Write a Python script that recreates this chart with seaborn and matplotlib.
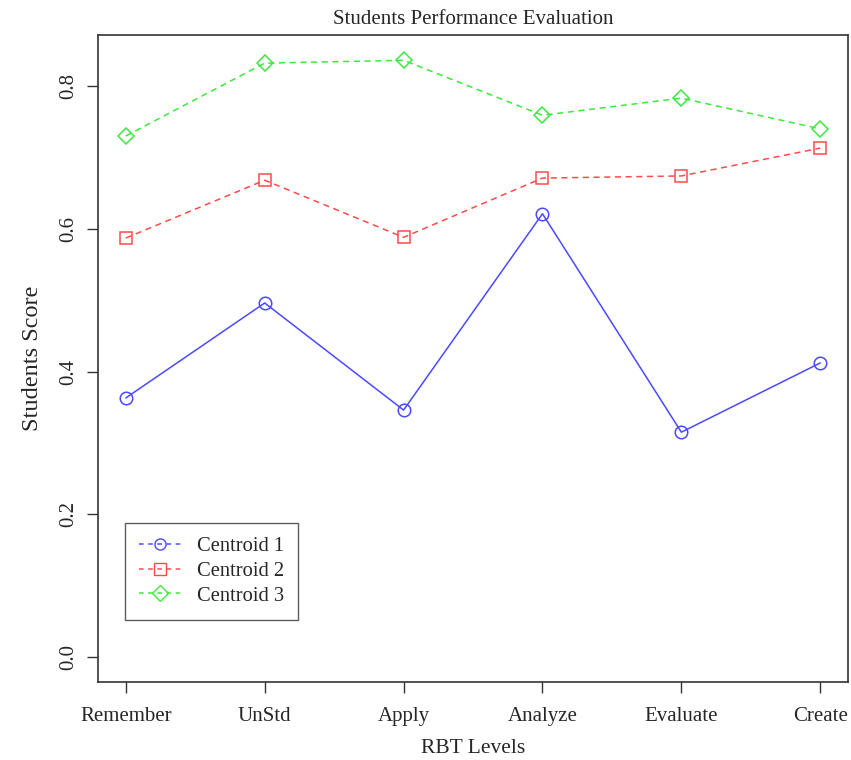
import matplotlib
matplotlib.use("Agg")
import matplotlib.pyplot as plt
from matplotlib.lines import Line2D
import seaborn as sns
import pandas as pd

levels = ["Remember", "UnStd", "Apply", "Analyze", "Evaluate", "Create"]
centroid1 = [0.363, 0.496, 0.346, 0.621, 0.315, 0.412]
centroid2 = [0.587, 0.668, 0.588, 0.671, 0.674, 0.713]
centroid3 = [0.730, 0.832, 0.836, 0.759, 0.783, 0.740]
names = ["Centroid 1", "Centroid 2", "Centroid 3"]

sns.set_style("ticks")
plt.rcParams["font.family"] = ["Liberation Serif", "DejaVu Serif"]

rows = []
for name, vals in zip(names, [centroid1, centroid2, centroid3]):
    for i, v in enumerate(vals):
        rows.append({"level": i + 1, "score": v, "series": name})
df = pd.DataFrame(rows)

colors = {"Centroid 1": "#4a4aff", "Centroid 2": "#ff4a4a", "Centroid 3": "#3ee83e"}
markers = {"Centroid 1": "o", "Centroid 2": "s", "Centroid 3": "D"}
styles = {"Centroid 1": "-", "Centroid 2": (0, (4, 3)), "Centroid 3": (0, (4, 3))}

fig = plt.figure(figsize=(8.51, 7.6), dpi=100)
ax = fig.add_axes([0.1152, 0.1026, 0.8813, 0.8514])

for name in names:
    sub = df[df["series"] == name]
    sns.lineplot(data=sub, x="level", y="score", ax=ax, color=colors[name],
                 linewidth=1.1, linestyle=styles[name], marker=markers[name],
                 markersize=9 if markers[name] != "D" else 8,
                 markerfacecolor="none", markeredgecolor=colors[name],
                 markeredgewidth=1.1, legend=False)

ax.set_xlim(0.8, 6.2)
ax.set_ylim(-0.035, 0.8715)
ax.set_xticks(range(1, 7))
ax.set_xticklabels(levels)
ax.set_yticks([0.0, 0.2, 0.4, 0.6, 0.8])
ax.set_yticklabels(["0.0", "0.2", "0.4", "0.6", "0.8"], rotation=90, va="center")
ax.tick_params(axis="both", direction="out", length=8, width=1, labelsize=15,
               color="#333333", pad=6)
ax.tick_params(axis="x", pad=10)
for s in ax.spines.values():
    s.set_linewidth(1.2)
    s.set_color("#333333")

ax.set_xlabel("RBT Levels", fontsize=15.5, labelpad=9)
ax.set_ylabel("Students Score", fontsize=17.5, labelpad=12)
ax.set_title("Students Performance Evaluation", fontsize=15, pad=8)

handles = [Line2D([0], [0], color=colors[n], linestyle=(0, (3, 3)), linewidth=1.1,
                  marker=markers[n], markersize=8, markerfacecolor="none",
                  markeredgecolor=colors[n]) for n in names]
ax.legend(handles, names, loc="lower left", bbox_to_anchor=(0.036, 0.096),
          borderaxespad=0, fontsize=14.8, frameon=True, fancybox=False,
          edgecolor="#333333", handlelength=2.0, handletextpad=0.8,
          borderpad=0.7, labelspacing=0.25)

fig.savefig("out.png", dpi=100)
